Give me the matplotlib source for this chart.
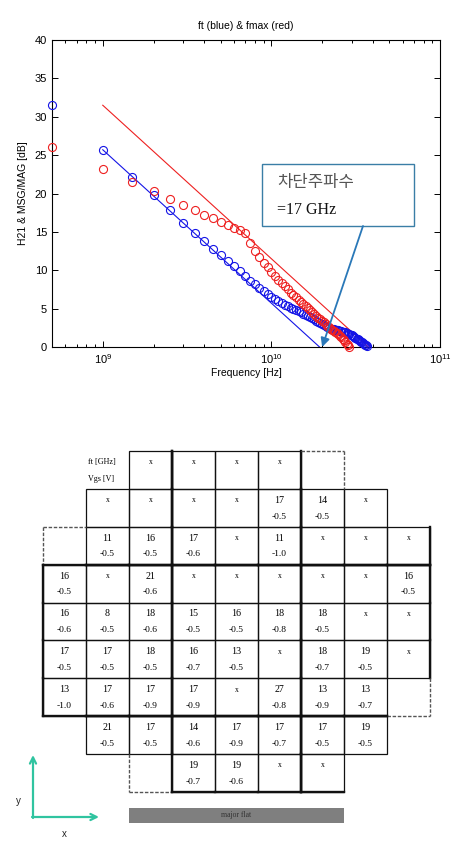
import matplotlib
matplotlib.use('Agg')
import matplotlib.pyplot as plt
from matplotlib.patches import Rectangle

plt.rcParams['font.family'] = ['Liberation Sans', 'DejaVu Sans']

# ---------------- data: frequency sweep ----------------
freq_ft_ghz = [0.5, 1.0, 1.5, 2.0, 2.5, 3.0, 3.5, 4.0, 4.5, 5.0,
               5.5, 6.0, 6.5, 7.0, 7.5, 8.0, 8.5, 9.0, 9.5, 10.0,
               10.5, 11.0, 11.5, 12.0, 12.5, 13.0, 13.5, 14.0, 14.5, 15.0,
               15.5, 16.0, 16.5, 17.0, 17.5, 18.0, 18.5, 19.0, 19.5, 20.0,
               20.5, 21.0, 21.5, 22.0, 22.5, 23.0, 23.5, 24.0, 24.5, 25.0,
               25.5, 26.0, 26.5, 27.0, 27.5, 28.0, 28.5, 29.0, 29.5, 30.0,
               30.5, 31.0, 31.5, 32.0, 32.5, 33.0, 33.5, 34.0, 34.5, 35.0,
               35.5, 36.0, 36.5, 37.0]
h21_db = [31.5, 25.7, 22.2, 19.8, 17.9, 16.2, 14.9, 13.85, 12.8, 12.0,
          11.2, 10.5, 9.85, 9.2, 8.65, 8.15, 7.7, 7.25, 6.9, 6.55,
          6.25, 6.0, 5.75, 5.5, 5.3, 5.1, 4.95, 4.8, 4.65, 4.5,
          4.35, 4.2, 4.05, 3.9, 3.75, 3.6, 3.45, 3.3, 3.15, 3.0,
          2.85, 2.7, 2.6, 2.5, 2.4, 2.35, 2.3, 2.25, 2.2, 2.15,
          2.1, 2.05, 2.0, 1.95, 1.9, 1.8, 1.75, 1.65, 1.55, 1.5,
          1.4, 1.3, 1.2, 1.1, 1.0, 0.9, 0.8, 0.7, 0.6, 0.5,
          0.4, 0.3, 0.2, 0.1]

freq_fmax_ghz = [0.5, 1.0, 1.5, 2.0, 2.5, 3.0, 3.5, 4.0, 4.5, 5.0,
                 5.5, 6.0, 6.5, 7.0, 7.5, 8.0, 8.5, 9.0, 9.5, 10.0,
                 10.5, 11.0, 11.5, 12.0, 12.5, 13.0, 13.5, 14.0, 14.5, 15.0,
                 15.5, 16.0, 16.5, 17.0, 17.5, 18.0, 18.5, 19.0, 19.5, 20.0,
                 20.5, 21.0, 21.5, 22.0, 22.5, 23.0, 23.5, 24.0, 24.5, 25.0,
                 25.5, 26.0, 26.5, 27.0, 27.5, 28.0, 28.5, 29.0]
msg_db = [26.1, 23.2, 21.5, 20.3, 19.3, 18.5, 17.8, 17.2, 16.8, 16.3,
          15.9, 15.5, 15.2, 14.9, 13.6, 12.5, 11.7, 11.0, 10.4, 9.8,
          9.25, 8.75, 8.3, 7.9, 7.5, 7.1, 6.8, 6.45, 6.15, 5.85,
          5.55, 5.3, 5.05, 4.8, 4.55, 4.3, 4.05, 3.8, 3.6, 3.4,
          3.2, 3.0, 2.8, 2.6, 2.4, 2.25, 2.1, 1.95, 1.8, 1.65,
          1.45, 1.25, 1.05, 0.85, 0.65, 0.45, 0.25, 0.05]

ft_fit_hz = [1.0e9, 1.93e10]
ft_fit_db = [25.7, 0.0]
fmax_fit_hz = [1.0e9, 3.76e10]
fmax_fit_db = [31.5, 0.0]

cutoff_hz = 2.0e10
cutoff_label = ['차단주파수', '=17 GHz']

# ---------------- data: wafer map ----------------
ft_map = [
    ["", "", "x", "x", "x", "x", "", "", ""],
    ["", "x", "x", "x", "x", "17", "14", "x", ""],
    ["", "11", "16", "17", "x", "11", "x", "x", "x"],
    ["16", "x", "21", "x", "x", "x", "x", "x", "16"],
    ["16", "8", "18", "15", "16", "18", "18", "x", "x"],
    ["17", "17", "18", "16", "13", "x", "18", "19", "x"],
    ["13", "17", "17", "17", "x", "27", "13", "13", ""],
    ["", "21", "17", "14", "17", "17", "17", "19", ""],
    ["", "", "", "19", "19", "x", "x", "", ""],
]
vgs_map = [
    ["", "", "", "", "", "", "", "", ""],
    ["", "", "", "", "", "-0.5", "-0.5", "", ""],
    ["", "-0.5", "-0.5", "-0.6", "", "-1.0", "", "", ""],
    ["-0.5", "", "-0.6", "", "", "", "", "", "-0.5"],
    ["-0.6", "-0.5", "-0.6", "-0.5", "-0.5", "-0.8", "-0.5", "", ""],
    ["-0.5", "-0.5", "-0.5", "-0.7", "-0.5", "", "-0.7", "-0.5", ""],
    ["-1.0", "-0.6", "-0.9", "-0.9", "", "-0.8", "-0.9", "-0.7", ""],
    ["", "-0.5", "-0.5", "-0.6", "-0.9", "-0.7", "-0.5", "-0.5", ""],
    ["", "", "", "-0.7", "-0.6", "", "", "", ""],
]
# S = solid cell, D = dashed (empty) cell, H = header label, space = nothing
cell_layout = [
    " HSSSSD  ",
    " SSSSSSS ",
    "DSSSSSSSS",
    "SSSSSSSSS",
    "SSSSSSSSS",
    "SSSSSSSSS",
    "SSSSSSSSD",
    " SSSSSSS ",
    "  DSSSS  ",
]
header_lines = ['ft [GHz]', 'Vgs [V]']
flat_label = 'major flat'

W, H = 463, 848
fig = plt.figure(figsize=(W / 100, H / 100), dpi=100)

# ================= top chart =================
ax = fig.add_axes([52 / W, 1 - 347 / H, 388 / W, 307 / H])
ax.set_xscale('log')
ax.set_xlim(5e8, 1e11)
ax.set_ylim(0, 40)
ax.set_yticks(range(0, 41, 5))

blue = '#1414e6'
red = '#ee2020'
ax.plot(ft_fit_hz, ft_fit_db, color=blue, lw=0.8, zorder=2)
ax.plot(fmax_fit_hz, fmax_fit_db, color=red, lw=0.8, zorder=2)
ax.plot([f * 1e9 for f in freq_ft_ghz], h21_db, 'o', mfc='none', mec=blue,
        ms=5.8, mew=0.8, zorder=3, clip_on=False)
ax.plot([f * 1e9 for f in freq_fmax_ghz], msg_db, 'o', mfc='none', mec=red,
        ms=5.8, mew=0.8, zorder=3, clip_on=False)

ax.tick_params(which='both', direction='in', top=True, right=True,
               labelsize=8, width=0.7)
ax.tick_params(which='major', length=4)
ax.tick_params(which='minor', length=2.2)
for s in ax.spines.values():
    s.set_linewidth(0.8)
ax.set_title('ft (blue) & fmax (red)', fontsize=7.5, pad=8)
ax.set_xlabel('Frequency [Hz]', fontsize=7.5, labelpad=2)
ax.set_ylabel('H21 & MSG/MAG [dB]', fontsize=7.5, labelpad=5)

# annotation box
bx0, bx1 = (262 - 52) / 388, (414 - 52) / 388
by0, by1 = (347 - 226) / 307, (347 - 164) / 307
ax.add_patch(Rectangle((bx0, by0), bx1 - bx0, by1 - by0, transform=ax.transAxes,
                       fc='white', ec='#3a7ea6', lw=1.0, zorder=6, clip_on=False))
ax.text((277 - 52) / 388, (347 - 183) / 307, cutoff_label[0], transform=ax.transAxes,
        fontsize=12, family=['Noto Sans CJK KR'], color='#555555',
        ha='left', va='center', zorder=7)
ax.text((277 - 52) / 388, (347 - 210) / 307, cutoff_label[1], transform=ax.transAxes,
        fontsize=11.5, family=['Liberation Serif'], color='#111111',
        ha='left', va='center', zorder=7)
ax.annotate('', xy=(cutoff_hz, 0), xycoords='data',
            xytext=((363 - 52) / 388, by0), textcoords='axes fraction',
            arrowprops=dict(arrowstyle='-|>', color='#2a78b8', lw=1.3,
                            mutation_scale=13, shrinkA=0, shrinkB=0),
            zorder=8)

# ================= wafer map =================
tax = fig.add_axes([43 / W, 1 - 792 / H, 387 / W, 341 / H])
tax.set_xlim(0, 9)
tax.set_ylim(9, 0)
tax.axis('off')

nrow, ncol = len(cell_layout), len(cell_layout[0])


def kind(r, c):
    if 0 <= r < nrow and 0 <= c < ncol:
        return cell_layout[r][c]
    return ' '


thick_cols = {0, 3, 6, 9}
thick_rows = {3, 7, 9}
for r in range(nrow):
    for c in range(ncol):
        k = kind(r, c)
        if k == 'S':
            tax.add_patch(Rectangle((c, r), 1, 1, fc='none', ec='#111111', lw=0.9,
                                    clip_on=False))
            edges = [((c, c), (r, r + 1), c in thick_cols),
                     ((c + 1, c + 1), (r, r + 1), (c + 1) in thick_cols),
                     ((c, c + 1), (r, r), r in thick_rows),
                     ((c, c + 1), (r + 1, r + 1), (r + 1) in thick_rows)]
            for xs, ys, thick in edges:
                if thick:
                    tax.plot(xs, ys, color='#111111', lw=1.7, clip_on=False,
                             solid_capstyle='projecting')
            ft = ft_map[r][c]
            vg = vgs_map[r][c]
            if ft == 'x':
                tax.text(c + 0.5, r + 0.3, 'x', ha='center', va='center',
                         fontsize=5.5, family=['Liberation Serif'])
            elif ft:
                tax.text(c + 0.5, r + 0.3, ft, ha='center', va='center',
                         fontsize=7.2, family=['Liberation Serif'])
            if vg:
                tax.text(c + 0.5, r + 0.73, vg, ha='center', va='center',
                         fontsize=6.8, family=['Liberation Serif'])
        elif k == 'D':
            nb = [((c, c), (r, r + 1), kind(r, c - 1)),
                  ((c + 1, c + 1), (r, r + 1), kind(r, c + 1)),
                  ((c, c + 1), (r, r), kind(r - 1, c)),
                  ((c, c + 1), (r + 1, r + 1), kind(r + 1, c))]
            for xs, ys, kk in nb:
                if kk != 'S':
                    tax.plot(xs, ys, color='#555555', lw=1.0, ls=(0, (2.5, 1.2)),
                             clip_on=False)
        elif k == 'H':
            tax.text(c + 0.05, r + 0.28, header_lines[0], ha='left', va='center',
                     fontsize=5.8, family=['Liberation Serif'])
            tax.text(c + 0.05, r + 0.74, header_lines[1], ha='left', va='center',
                     fontsize=5.8, family=['Liberation Serif'])

# major flat bar
tax.add_patch(Rectangle((2, 9.42), 5, 0.40, fc='#7f7f7f', ec='none', clip_on=False))
tax.text(4.5, 9.62, flat_label, ha='center', va='center', fontsize=5.5,
         color='#333333', family=['Liberation Serif'], clip_on=False)

# x / y orientation arrows
oax = fig.add_axes([0, 0, 1, 1])
oax.set_xlim(0, W)
oax.set_ylim(H, 0)
oax.axis('off')
teal = '#30c4a0'
oax.annotate('', xy=(33, 755), xytext=(33, 818),
             arrowprops=dict(arrowstyle='->', color=teal, lw=1.6, shrinkA=0, shrinkB=0,
                             mutation_scale=11))
oax.annotate('', xy=(99, 817), xytext=(32, 817),
             arrowprops=dict(arrowstyle='->', color=teal, lw=1.6, shrinkA=0, shrinkB=0,
                             mutation_scale=11))
oax.text(18, 801, 'y', fontsize=7, ha='center', va='center', color='#222222')
oax.text(64, 834, 'x', fontsize=7, ha='center', va='center', color='#222222')

fig.savefig('out.png', dpi=100)
